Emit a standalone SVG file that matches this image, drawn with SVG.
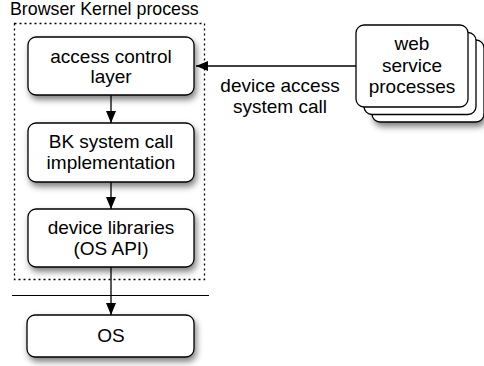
<svg xmlns="http://www.w3.org/2000/svg" width="484" height="366" viewBox="0 0 484 366">
<defs>
<filter id="sh" x="-20%" y="-20%" width="150%" height="160%">
<feDropShadow dx="2" dy="4" stdDeviation="3" flood-color="#000" flood-opacity="0.5"/>
</filter>
<marker id="ah" viewBox="0 0 12 10" refX="12" refY="5" markerWidth="12" markerHeight="10" markerUnits="userSpaceOnUse" orient="auto">
<path d="M0,0 L12,5 L0,10 Z" fill="#000"/>
</marker>
</defs>
<style>
.box{fill:#fff;stroke:#000;stroke-width:1.3}
.t{font-family:"Liberation Sans",Arial,sans-serif;font-size:19px;fill:#000;text-anchor:middle}
.title{font-family:"Liberation Sans",Arial,sans-serif;font-size:17.8px;fill:#000}
.c{stroke:#000;stroke-width:1.3;fill:none}
</style>
<text class="title" x="10" y="15">Browser Kernel process</text>
<rect x="14.5" y="23.5" width="190" height="256" fill="none" stroke="#000" stroke-width="1.3" stroke-dasharray="2 3"/>
<line x1="12" y1="295.5" x2="209" y2="295.5" stroke="#000" stroke-width="1"/>
<g id="web">
<rect class="box" x="372" y="40" width="112" height="82" rx="8" filter="url(#sh)"/>
<rect class="box" x="364" y="32.5" width="112" height="82" rx="8"/>
<rect class="box" x="356" y="25" width="112" height="82" rx="8"/>
<text class="t" x="412" y="50">web</text>
<text class="t" x="412" y="72">service</text>
<text class="t" x="412" y="93">processes</text>
</g>
<g id="acl">
<rect class="box" x="28" y="37" width="166" height="58" rx="8" filter="url(#sh)"/>
<text class="t" x="111" y="63">access control</text>
<text class="t" x="111" y="83">layer</text>
</g>
<g id="bk">
<rect class="box" x="28" y="123" width="166" height="59" rx="8" filter="url(#sh)"/>
<text class="t" x="111" y="148">BK system call</text>
<text class="t" x="111" y="169">implementation</text>
</g>
<g id="devlib">
<rect class="box" x="28" y="209" width="166" height="58" rx="8" filter="url(#sh)"/>
<text class="t" x="111" y="234">device libraries</text>
<text class="t" x="111" y="255">(OS API)</text>
</g>
<g id="os">
<rect class="box" x="27" y="315" width="167" height="42" rx="8" filter="url(#sh)"/>
<text class="t" x="111" y="342">OS</text>
</g>
<g id="connectors">
<line class="c" x1="111" y1="95" x2="111" y2="123" marker-end="url(#ah)"/>
<line class="c" x1="111" y1="182" x2="111" y2="209" marker-end="url(#ah)"/>
<line class="c" x1="111" y1="267" x2="111" y2="315" marker-end="url(#ah)"/>
<line class="c" x1="356" y1="66" x2="196" y2="66" marker-end="url(#ah)"/>
<text class="t" x="280" y="92">device access</text>
<text class="t" x="280" y="113">system call</text>
</g>
</svg>
